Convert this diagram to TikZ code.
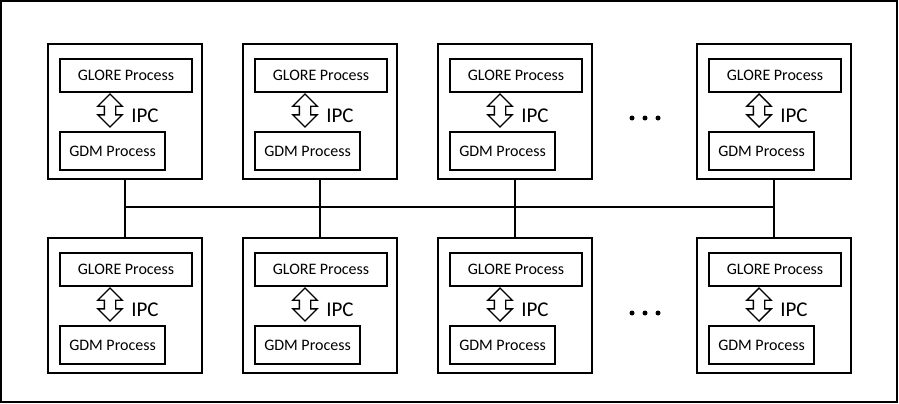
\documentclass[tikz,border=0pt]{standalone}
\usepackage{fontspec}
\setmainfont{Carlito}
\usetikzlibrary{shapes.arrows}

\tikzset{
  host/.style={draw, line width=2pt, minimum width=154, minimum height=135, inner sep=0pt},
  proc/.style={draw, line width=2pt, inner sep=0pt, font=\fontsize{16}{18}\selectfont},
  ipcarrow/.style={draw, line width=1.4pt, double arrow, rotate=90, inner xsep=0pt, inner ysep=5pt,
    minimum height=33, double arrow head extend=6.5},
  ipc/.style={inner sep=0pt, font=\fontsize{21}{23}\selectfont},
  wire/.style={line width=2pt}
}

\begin{document}
\begin{tikzpicture}[x=1pt, y=-1pt]
  \useasboundingbox (0,0) rectangle (899,404);

  % outer frame
  \draw[line width=2pt] (1,1) rectangle (897,402);

  % host cells: top row (t) and bottom row (b)
  \foreach \x/\n in {48/1,243/2,438/3,697/4} {
    \foreach \y/\r in {44/t,238/b} {
      \node[host] (\r\n) at (\x+77,\y+67.5) {};
      \node[proc, minimum width=132, minimum height=33] (\r\n-glore) at (\x+78,\y+31.5) {GLORE Process};
      \node[proc, minimum width=105, minimum height=38] (\r\n-gdm) at (\x+64.5,\y+107) {GDM Process};
      \node[ipcarrow] (\r\n-arrow) at (\x+62,\y+66.5) {};
      \node[ipc] (\r\n-ipc) at (\x+97,\y+72) {IPC};
    }
  }

  % dots between third and fourth column
  \foreach \y in {118,313} {
    \foreach \x in {632,645,658} {
      \fill (\x,\y) circle (2.5);
    }
  }

  % the bus
  \coordinate (bus) at (0,207);
  \draw[wire] (t1.south |- bus) -- (t4.south |- bus);
  \foreach \n in {1,...,4} {
    \draw[wire] (t\n.south) -- (b\n.north);
  }
\end{tikzpicture}
\end{document}
